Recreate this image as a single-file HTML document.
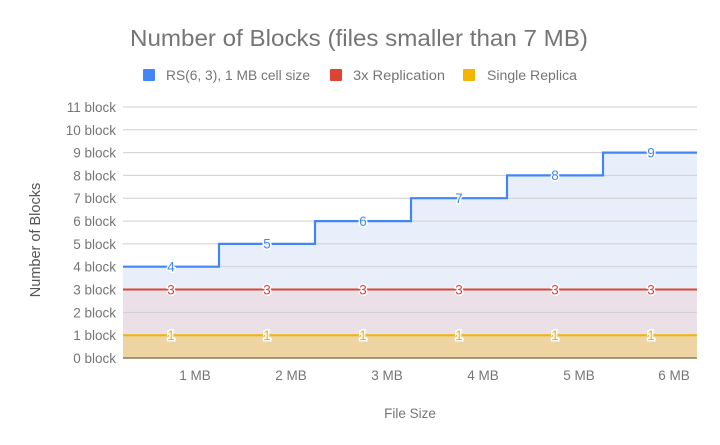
<!DOCTYPE html>
<html><head><meta charset="utf-8"><style>
html,body{margin:0;padding:0;background:#fff;}
svg{display:block;font-family:"Liberation Sans",sans-serif;}
</style></head><body>
<svg width="720" height="445" viewBox="0 0 720 445" xmlns="http://www.w3.org/2000/svg">
<rect width="720" height="445" fill="#fff"/>
<text x="130" y="46" font-size="23.5" fill="#757575" textLength="458" lengthAdjust="spacingAndGlyphs">Number of Blocks (files smaller than 7 MB)</text>
<rect x="143" y="69" width="12" height="12" rx="1" fill="#4285f4"/>
<text x="166" y="80" font-size="13.5" fill="#757575" textLength="144" lengthAdjust="spacingAndGlyphs">RS(6, 3), 1 MB cell size</text>
<rect x="330" y="69" width="12" height="12" rx="1" fill="#db4437"/>
<text x="353" y="80" font-size="13.5" fill="#757575" textLength="92" lengthAdjust="spacingAndGlyphs">3x Replication</text>
<rect x="463" y="69" width="12" height="12" rx="1" fill="#f4b400"/>
<text x="487" y="80" font-size="13.5" fill="#757575" textLength="90" lengthAdjust="spacingAndGlyphs">Single Replica</text>
<path d="M123,266.7 H219 V243.9 H315 V221.1 H411 V198.2 H507 V175.4 H603 V152.6 H697 V358 H123 Z" fill="#e8effb"/>
<rect x="123" y="289.5" width="574" height="68.5" fill="#ebe0e8"/>
<rect x="123" y="335.2" width="574" height="22.8" fill="#edd4a0"/>
<g stroke="#cfcfcf" stroke-width="1">
<line x1="123" x2="697" y1="107" y2="107"/><line x1="123" x2="697" y1="129.8" y2="129.8"/>
<line x1="123" x2="697" y1="152.6" y2="152.6"/><line x1="123" x2="697" y1="175.4" y2="175.4"/>
<line x1="123" x2="697" y1="198.2" y2="198.2"/><line x1="123" x2="697" y1="221.1" y2="221.1"/>
<line x1="123" x2="697" y1="243.9" y2="243.9"/><line x1="123" x2="697" y1="266.7" y2="266.7"/>
<line x1="123" x2="697" y1="289.5" y2="289.5"/><line x1="123" x2="697" y1="312.4" y2="312.4"/>
<line x1="123" x2="697" y1="335.2" y2="335.2"/>
</g>
<line x1="123" x2="697" y1="358" y2="358" stroke="#8a7a60" stroke-width="1.5"/>
<path d="M123,266.7 H219 V243.9 H315 V221.1 H411 V198.2 H507 V175.4 H603 V152.6 H697" fill="none" stroke="#4285f4" stroke-width="2.2"/>
<line x1="123" x2="697" y1="289.5" y2="289.5" stroke="#db4437" stroke-width="2"/>
<line x1="123" x2="697" y1="335.2" y2="335.2" stroke="#f4b400" stroke-width="2"/>
<g font-size="13.5" text-anchor="middle" stroke="#fff" stroke-width="3" paint-order="stroke">
<g fill="#4285f4"><text x="171" y="271.5">4</text><text x="267" y="248.7">5</text><text x="363" y="225.9">6</text><text x="459" y="203">7</text><text x="555" y="180.2">8</text><text x="651" y="157.4">9</text></g>
<g fill="#db4437"><text x="171" y="294.3">3</text><text x="267" y="294.3">3</text><text x="363" y="294.3">3</text><text x="459" y="294.3">3</text><text x="555" y="294.3">3</text><text x="651" y="294.3">3</text></g>
<g fill="#f4b400"><text x="171" y="340">1</text><text x="267" y="340">1</text><text x="363" y="340">1</text><text x="459" y="340">1</text><text x="555" y="340">1</text><text x="651" y="340">1</text></g>
</g>
<g font-size="13.5" fill="#757575" text-anchor="end">
<text x="116" y="112">11 block</text><text x="116" y="134.8">10 block</text><text x="116" y="157.6">9 block</text>
<text x="116" y="180.4">8 block</text><text x="116" y="203.2">7 block</text><text x="116" y="226.1">6 block</text>
<text x="116" y="248.9">5 block</text><text x="116" y="271.7">4 block</text><text x="116" y="294.5">3 block</text>
<text x="116" y="317.4">2 block</text><text x="116" y="340.2">1 block</text><text x="116" y="363">0 block</text>
</g>
<g font-size="13.5" fill="#757575" text-anchor="middle">
<text x="195" y="380">1 MB</text><text x="291" y="380">2 MB</text><text x="387" y="380">3 MB</text>
<text x="483" y="380">4 MB</text><text x="579" y="380">5 MB</text><text x="674" y="380">6 MB</text>
<text x="410" y="418">File Size</text>
</g>
<text transform="translate(40,240) rotate(-90)" font-size="14.5" fill="#555" text-anchor="middle">Number of Blocks</text>
</svg>
</body></html>
